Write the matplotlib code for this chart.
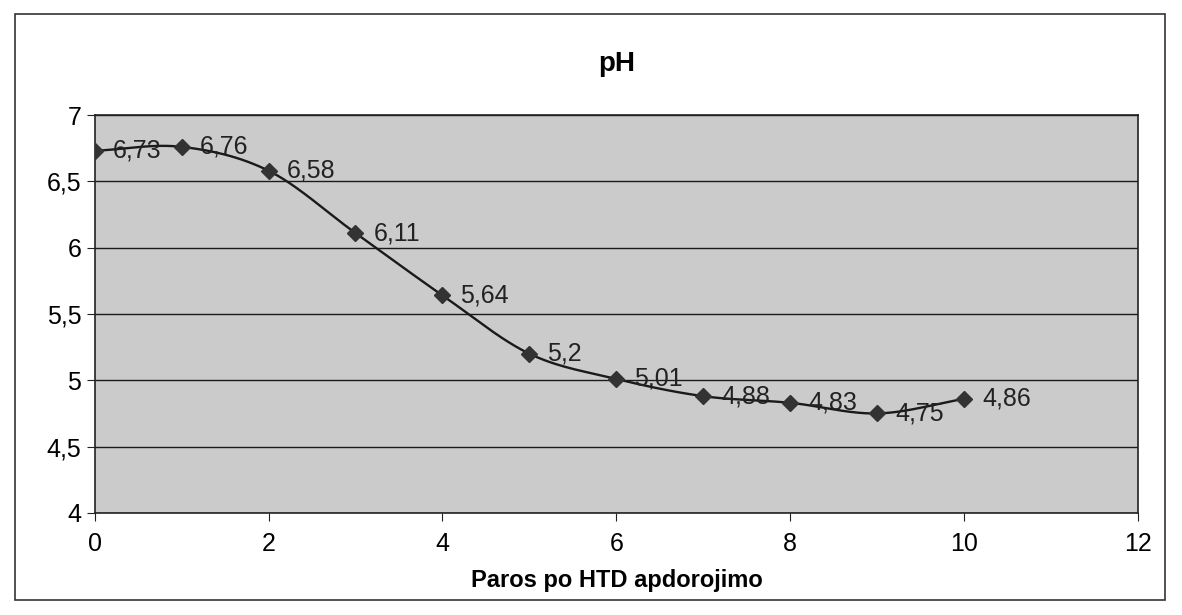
import numpy as np
import matplotlib.pyplot as plt
from matplotlib.ticker import FuncFormatter, MultipleLocator
from matplotlib.patches import Rectangle

plt.rcParams['font.family'] = ['Liberation Sans', 'DejaVu Sans']

# data
days = [0, 1, 2, 3, 4, 5, 6, 7, 8, 9, 10]
ph = [6.73, 6.76, 6.58, 6.11, 5.64, 5.2, 5.01, 4.88, 4.83, 4.75, 4.86]
labels = ['6,73', '6,76', '6,58', '6,11', '5,64', '5,2', '5,01', '4,88', '4,83', '4,75', '4,86']


def smooth(x, y, n=30):
    # Catmull-Rom curve through the points, like Excel's smoothed line
    x = np.asarray(x, float)
    y = np.asarray(y, float)
    px = np.concatenate(([2 * x[0] - x[1]], x, [2 * x[-1] - x[-2]]))
    py = np.concatenate(([2 * y[0] - y[1]], y, [2 * y[-1] - y[-2]]))
    t = np.linspace(0, 1, n)
    xs, ys = [], []
    for i in range(1, len(px) - 2):
        for p, out in ((px, xs), (py, ys)):
            p0, p1, p2, p3 = p[i - 1], p[i], p[i + 1], p[i + 2]
            out.append(0.5 * (2 * p1 + (-p0 + p2) * t
                              + (2 * p0 - 5 * p1 + 4 * p2 - p3) * t ** 2
                              + (-p0 + 3 * p1 - 3 * p2 + p3) * t ** 3))
    return np.concatenate(xs), np.concatenate(ys)


fig = plt.figure(figsize=(11.82, 6.15), dpi=100)
fig.patches.append(Rectangle((0.013, 0.025), 0.973, 0.952, transform=fig.transFigure,
                             fill=False, edgecolor='#333333', linewidth=1.2))
ax = fig.add_axes([0.080, 0.166, 0.883, 0.647])
ax.set_facecolor('#cbcbcb')

sx, sy = smooth(days, ph)
ax.plot(sx, sy, color='#1a1a1a', linewidth=1.7, zorder=3)
ax.plot(days, ph, linestyle='none', marker='D', markersize=8,
        color='#333333', zorder=4)
for x, y, s in zip(days, ph, labels):
    ax.annotate(s, (x, y), xytext=(13, 0), textcoords='offset points',
                ha='left', va='center', fontsize=18, color='#222222', zorder=5)

ax.set_xlim(0, 12)
ax.set_ylim(4, 7)
ax.xaxis.set_major_locator(MultipleLocator(2))
ax.yaxis.set_major_locator(MultipleLocator(0.5))
fmt = FuncFormatter(lambda v, p: ('%g' % v).replace('.', ','))
ax.xaxis.set_major_formatter(fmt)
ax.yaxis.set_major_formatter(fmt)
ax.grid(axis='y', color='#1a1a1a', linewidth=1.0)
ax.set_axisbelow(True)
ax.tick_params(axis='both', labelsize=18, direction='out', length=6, color='#222222')
ax.tick_params(axis='x', pad=8)
for sp in ax.spines.values():
    sp.set_color('#222222')
    sp.set_linewidth(1.2)

ax.set_xlabel('Paros po HTD apdorojimo', fontsize=17, fontweight='bold', labelpad=9)
ax.set_title('pH', fontsize=20, fontweight='bold', pad=32)

fig.savefig('out.png', dpi=100)
